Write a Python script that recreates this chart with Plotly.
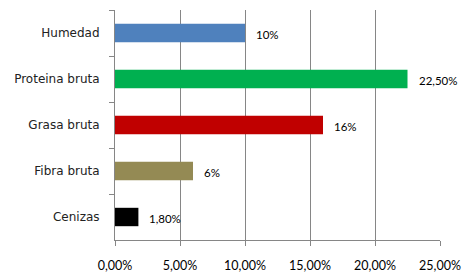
import plotly.graph_objects as go

categories = ["Humedad", "Proteina bruta", "Grasa bruta", "Fibra bruta", "Cenizas"]
values = [10.0, 22.5, 16.0, 6.0, 1.8]
value_labels = ["10%", "22,50%", "16%", "6%", "1,80%"]
bar_colors = ["#4F81BD", "#00B050", "#C00000", "#948A54", "#000000"]
tick_vals = [0, 5, 10, 15, 20, 25]
tick_text = ["0,00%", "5,00%", "10,00%", "15,00%", "20,00%", "25,00%"]

fig = go.Figure()
fig.add_trace(go.Bar(
    x=values, y=categories, orientation="h",
    marker=dict(color=bar_colors, line=dict(width=0)),
    width=0.4, showlegend=False, hoverinfo="skip",
))

for v, c, t in zip(values, categories, value_labels):
    fig.add_annotation(x=v, y=c, text=t, showarrow=False, xanchor="left",
                       xshift=9, yshift=-1,
                       font=dict(family="Lato, Liberation Sans, sans-serif", size=11.5, color="#000000"))

fig.update_layout(
    width=471, height=277,
    margin=dict(l=115, r=31, t=10, b=37),
    paper_bgcolor="white", plot_bgcolor="white",
    xaxis=dict(range=[0, 25], tickvals=tick_vals, ticktext=tick_text,
               showgrid=True, gridcolor="#868686", gridwidth=1,
               showline=True, linecolor="#868686", linewidth=1,
               ticks="outside", ticklen=5, tickcolor="#868686",
               zeroline=False, ticklabelstandoff=9, automargin=False,
               tickfont=dict(family="Lato, Liberation Sans, sans-serif", size=12.5, color="#000000")),
    yaxis=dict(categoryorder="array", categoryarray=categories, autorange="reversed",
               showline=True, linecolor="#868686", linewidth=1,
               ticks="outside", ticklen=5, tickcolor="#868686", tickson="boundaries",
               showgrid=False, automargin=False,
               tickfont=dict(family="DejaVu Sans, sans-serif", size=12, color="#222222"),
               ticklabelstandoff=12),
)

fig.write_html("out.html")
